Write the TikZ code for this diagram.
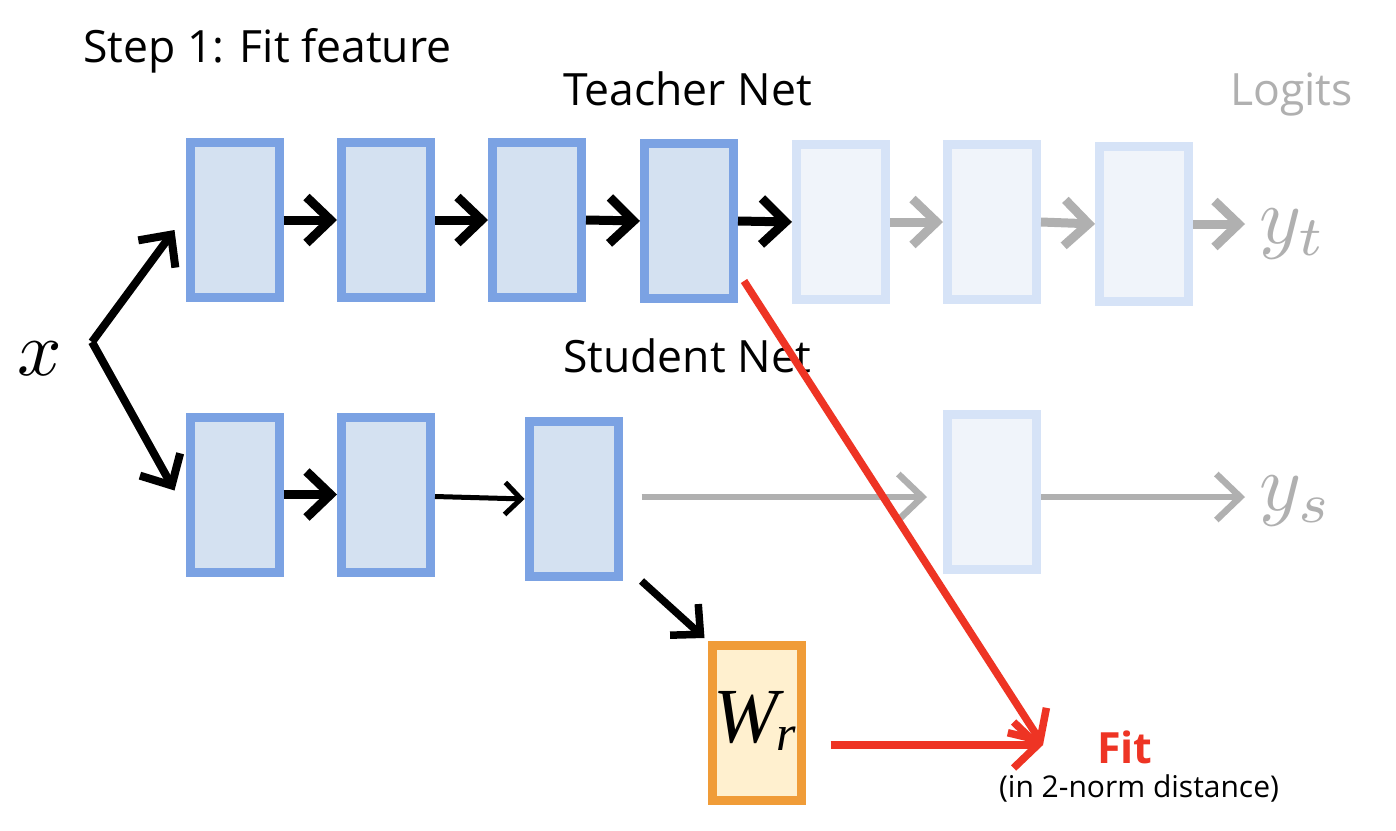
\documentclass[tikz,border=0pt]{standalone}
\usepackage{fontspec}
\setmainfont{Open Sans}
\newfontfamily\timesf{Liberation Serif}
\usetikzlibrary{arrows.meta,calc}
\definecolor{bb}{HTML}{7BA2E3}
\definecolor{bf}{HTML}{D4E1F1}
\definecolor{fb}{HTML}{D6E3F7}
\definecolor{ff}{HTML}{F0F4FA}
\definecolor{gr}{HTML}{B0B0B0}
\definecolor{ob}{HTML}{F09C38}
\definecolor{of}{HTML}{FFF0CF}
\definecolor{rd}{HTML}{EE3424}
\begin{document}
\begin{tikzpicture}[x=1pt,y=-1pt,
  layer/.style={draw=bb,fill=bf,line width=9pt,minimum width=89pt,minimum height=155pt,inner sep=0pt},
  faded/.style={layer,draw=fb,fill=ff},
  wbox/.style={layer,draw=ob,fill=of},
  blk/.style={line width=9pt,-{Straight Barb[length=24pt,width=46pt]}},
  thin/.style={line width=5pt,-{Straight Barb[length=16pt,width=32pt]}},
  gry/.style={gr,line width=9pt,-{Straight Barb[length=24pt,width=46pt]}},
  gryt/.style={gr,line width=6.5pt,-{Straight Barb[length=24pt,width=46pt]}},
  red/.style={rd,line width=7.5pt,-{Straight Barb[length=24pt,width=46pt]}},
  lbl/.style={anchor=base west,inner sep=0pt,font=\fontsize{44.5}{50}\selectfont},
  mth/.style={inner sep=0pt,anchor=base west,font=\fontsize{10}{12}\selectfont},
]
\useasboundingbox[fill=white] (0,0) rectangle (1396,830);
% teacher
\node[layer] (T1) at (234.5,220) {};
\node[layer] (T2) at (386,220) {};
\node[layer] (T3) at (537,220) {};
\node[layer] (T4) at (689,221) {};
\node[faded] (T5) at (841,222) {};
\node[faded] (T6) at (992,222) {};
\node[faded] (T7) at (1144,224) {};
% student
\node[layer] (S1) at (234.5,494.5) {};
\node[layer] (S2) at (386,494.5) {};
\node[layer] (S3) at (573.5,499) {};
\node[faded] (S4) at (992,492) {};
\node[wbox] (W) at (756.5,723) {};
\node[inner sep=0pt,anchor=base west] (wr) at (713,742) {{\timesf\itshape\fontsize{78}{78}\selectfont W\kern-2pt\raisebox{-8pt}{\fontsize{50}{50}\selectfont r}}};
% labels
\node[lbl] (step) at (83,62) {Step 1: Fit feature};
\node[lbl] (tn) at (563,105) {Teacher Net};
\node[lbl,text=gr] (lg) at (1230,105) {Logits};
\node[lbl] (sn) at (563,372) {Student Net};
\node[mth] (x) at (17,375) {\scalebox{7.8}{$x$}};
\node[mth,text=gr] (yt) at (1259,243) {\scalebox{8}{$y_t$}};
\node[mth,text=gr] (ys) at (1259,510) {\scalebox{8}{$y_s$}};
\node[inner sep=0pt,anchor=base west,text=rd,font=\fontsize{43}{43}\selectfont\bfseries] (fit) at (1097,763) {Fit};
\node[inner sep=0pt,anchor=base,font=\fontsize{30}{30}\selectfont] (dist) at (1139,797) {(in 2-norm distance)};
% coordinates
\coordinate (split) at (92,342);
\coordinate (fitpt) at (1043,745);
\coordinate (sline) at (0,497);
% arrows
\draw[line width=8pt,-{Straight Barb[length=24pt,width=46pt]}] (split) -- ([shift={(-11pt,-10pt)}]T1.west);
\draw[line width=8pt,-{Straight Barb[length=24pt,width=46pt]}] (split) -- ([shift={(-11pt,4pt)}]S1.west);
\draw[blk] (T1.east) -- (T2.west);
\draw[blk] (T2.east) -- (T3.west);
\draw[blk] (T3.east) -- (T4.west);
\draw[blk] (T4.east) -- (T5.west);
\draw[gry] (T5.east) -- (T6.west);
\draw[gry] (T6.east) -- (T7.west);
\draw[gry] (T7.east) -- ([xshift=-14pt]yt.west |- T7.east);
\draw[blk] (S1.east) -- (S2.west);
\draw[thin] ([yshift=-2pt]S2.east) -- (S3.west);
\draw[gryt] ([xshift=19pt]S3.east |- sline) -- ([xshift=-16pt]S4.west |- sline);
\draw[gryt] (S4.east |- sline) -- ([xshift=-14pt]ys.west |- sline);
\draw[line width=7.5pt,-{Straight Barb[length=22pt,width=42pt]}] ([xshift=19pt]S3.south east) -- ([shift={(-3pt,3pt)}]W.north west);
\draw[red] ([shift={(6pt,22pt)}]T4.south east) -- (fitpt);
\draw[red] ([xshift=25pt]W.east |- fitpt) -- (fitpt);
\end{tikzpicture}
\end{document}
